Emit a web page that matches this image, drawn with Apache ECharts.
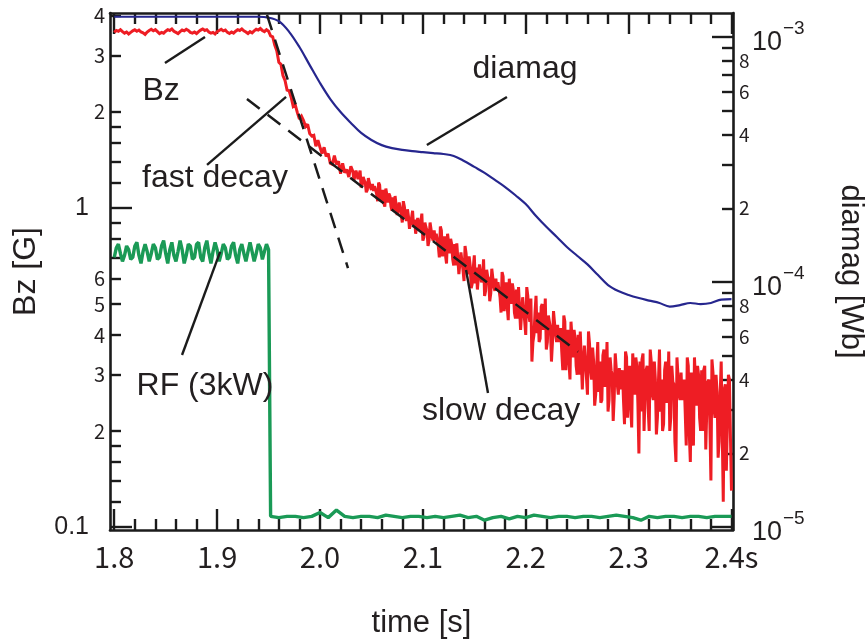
<!DOCTYPE html>
<html>
<head>
<meta charset="utf-8">
<script src="https://cdn.jsdelivr.net/npm/echarts@6/dist/echarts.min.js"></script>
<style>
  html, body { margin: 0; padding: 0; background: #ffffff; }
  #chart { width: 866px; height: 641px; }
</style>
</head>
<body>
<div id="chart"></div>
<script>
// ---- Bz probe signal [G], 2 ms sampling ----
const bzFlatStart = 1.800;
const bzStep = 0.002;
const bzFlat = [
  3.55,3.60,3.58,3.62,3.57,3.53,3.56,3.51,3.55,3.59,
  3.62,3.58,3.61,3.56,3.54,3.50,3.56,3.60,3.63,3.59,
  3.62,3.57,3.52,3.55,3.53,3.58,3.62,3.60,3.64,3.58,
  3.55,3.52,3.57,3.61,3.59,3.63,3.60,3.55,3.53,3.56,
  3.52,3.57,3.61,3.64,3.60,3.62,3.56,3.53,3.55,3.51,
  3.57,3.60,3.63,3.59,3.61,3.55,3.52,3.56,3.53,3.58,
  3.62,3.60,3.64,3.59,3.56,3.52,3.57,3.54,3.59,3.63,
  3.61,3.65,3.60,3.57,3.62,3.58
];
const bzDecayStart = 1.952;
const bzDecay = [
  3.46,3.44,3.24,3.11,2.86,2.82,2.60,2.51,2.34,2.33,
  2.22,2.08,2.10,1.99,1.90,1.94,1.88,1.80,1.83,1.71,
  1.68,1.69,1.56,1.63,1.55,1.48,1.55,1.45,1.48,1.38,
  1.37,1.46,1.37,1.40,1.28,1.38,1.29,1.32,1.25,1.35,
  1.30,1.22,1.32,1.23,1.16,1.25,1.20,1.14,1.23,1.14,
  1.13,1.17,1.05,1.18,1.10,1.04,1.15,1.04,1.09,0.98,
  0.98,1.09,0.99,1.03,0.90,1.01,0.91,0.94,0.86,0.98,
  0.92,0.83,0.94,0.86,0.79,0.90,0.85,0.79,0.89,0.79,
  0.79,0.84,0.70,0.85,0.77,0.71,0.83,0.72,0.77,0.66,
  0.66,0.78,0.67,0.73,0.59,0.72,0.62,0.66,0.58,0.71,
  0.65,0.56,0.67,0.60,0.53,0.64,0.60,0.54,0.64,0.55,
  0.55,0.59,0.47,0.61,0.54,0.49,0.60,0.50,0.55,0.45,
  0.45,0.57,0.47,0.52,0.40,0.53,0.44,0.33,0.40,0.53,
  0.47,0.39,0.50,0.43,0.36,0.46,0.42,0.38,0.47,0.38,
  0.38,0.42,0.31,0.44,0.375,0.33,0.44,0.34,0.39,0.30,
  0.30,0.41,0.33,0.37,0.26,0.375,0.29,0.33,0.26,0.38,
  0.33,0.25,0.36,0.29,0.23,0.34,0.30,0.255,0.35,0.26,
  0.27,0.31,0.21,0.34,0.28,0.24,0.35,0.26,0.32,0.17,
  0.23,0.35,0.26,0.32,0.20,0.33,0.25,0.29,0.22,0.36,
  0.29,0.21,0.33,0.26,0.20,0.32,0.28,0.16,0.34,0.25,
  0.25,0.29,0.18,0.32,0.16,0.21,0.34,0.24,0.30,0.20,
  0.20,0.32,0.235,0.29,0.14,0.305,0.22,0.265,0.185,0.33,
  0.12,0.28,0.15,0.29,0.13
];
// odd-millisecond samples of the same probe during the noisy tail
const bzTailStart = 2.033;
const bzTail = [
  1.22,1.31,1.23,1.31,1.18,1.22,1.12,1.24,1.16,1.19,
  1.17,1.11,1.20,1.05,1.14,1.01,1.10,1.11,1.01,1.08,
  1.09,0.95,1.04,0.95,1.05,0.94,0.99,0.86,0.93,0.87,
  0.83,0.93,0.85,0.96,0.81,0.87,0.76,0.90,0.81,0.85,
  0.83,0.76,0.875,0.705,0.815,0.67,0.78,0.80,0.69,0.77,
  0.775,0.62,0.725,0.64,0.76,0.65,0.705,0.56,0.65,0.58,
  0.555,0.665,0.585,0.69,0.55,0.61,0.51,0.645,0.565,0.60,
  0.585,0.525,0.63,0.475,0.585,0.445,0.55,0.58,0.47,0.555,
  0.565,0.415,0.525,0.44,0.565,0.46,0.52,0.38,0.47,0.405,
  0.38,0.49,0.415,0.52,0.38,0.44,0.33,0.475,0.40,0.43,
  0.41,0.355,0.46,0.31,0.415,0.29,0.39,0.415,0.32,0.40,
  0.41,0.27,0.37,0.295,0.41,0.31,0.365,0.24,0.32,0.265,
  0.245,0.345,0.275,0.38,0.25,0.31,0.215,0.35,0.28,0.315,
  0.30,0.25,0.355,0.22,0.32,0.205,0.305,0.34,0.245,0.33,
  0.335,0.20,0.31,0.235,0.36,0.26,0.33,0.195,0.285,0.23,
  0.20,0.31,0.245,0.355,0.22,0.285,0.185,0.34,0.26,0.305,
  0.28,0.23,0.34,0.195,0.305,0.18,0.285,0.32,0.22,0.31,
  0.31,0.175,0.285,0.21,0.335,0.235,0.30,0.165,0.26,0.20,
  0.27,0.15,0.30,0.19
];

// ---- RF power monitor (plotted on the Bz scale) ----
const rfOnStart = 1.800;
const rfOnStep = 0.002;
const rfOn = [
  0.70,0.75,0.77,0.72,0.68,0.71,0.76,0.74,0.69,0.70,
  0.76,0.78,0.71,0.67,0.73,0.77,0.73,0.68,0.72,0.77,
  0.75,0.69,0.70,0.76,0.79,0.72,0.67,0.74,0.78,0.71,
  0.68,0.73,0.79,0.74,0.67,0.71,0.77,0.76,0.69,0.70,
  0.77,0.78,0.70,0.68,0.75,0.79,0.72,0.67,0.73,0.78,
  0.74,0.68,0.72,0.77,0.75,0.69,0.70,0.76,0.78,0.71,
  0.67,0.74,0.77,0.72,0.68,0.73,0.78,0.73,0.68,0.72,
  0.77,0.75,0.69,0.73,0.77,0.74
];
const rfOffStart = 1.952;
const rfOffStep = 0.008;
const rfOff = [
  0.108,0.107,0.108,0.108,0.107,0.108,0.111,0.107,0.113,0.108,
  0.107,0.108,0.108,0.107,0.109,0.108,0.107,0.108,0.108,0.107,
  0.108,0.107,0.108,0.109,0.107,0.108,0.105,0.107,0.108,0.106,
  0.108,0.107,0.109,0.108,0.107,0.108,0.108,0.107,0.108,0.108,
  0.107,0.108,0.109,0.108,0.107,0.105,0.108,0.107,0.108,0.108,
  0.107,0.108,0.108,0.107,0.108,0.108,0.108
];

// ---- diamagnetic loop flux [Wb], 10 ms sampling ----
const diaStart = 1.80;
const diaStep = 0.01;
const diamag = [
  1.21e-3,1.21e-3,1.21e-3,1.21e-3,1.21e-3,1.21e-3,1.21e-3,1.21e-3,1.21e-3,1.21e-3,
  1.21e-3,1.21e-3,1.21e-3,1.21e-3,1.21e-3,1.20e-3,1.16e-3,1.05e-3,9.10e-4,7.68e-4,
  6.49e-4,5.58e-4,4.94e-4,4.46e-4,4.06e-4,3.80e-4,3.62e-4,3.52e-4,3.46e-4,3.42e-4,
  3.39e-4,3.36e-4,3.33e-4,3.27e-4,3.12e-4,2.95e-4,2.79e-4,2.61e-4,2.44e-4,2.26e-4,
  2.08e-4,1.86e-4,1.68e-4,1.53e-4,1.39e-4,1.28e-4,1.18e-4,1.07e-4,9.72e-5,9.19e-5,
  8.85e-5,8.60e-5,8.40e-5,8.21e-5,7.94e-5,8.05e-5,8.21e-5,8.13e-5,8.21e-5,8.48e-5,
  8.52e-5
];

// ---- exponential fits: [time, Bz] end points ----
const fastFit = [[1.9485, 4.03], [2.0272, 0.648]];
const slowFit = [[1.929, 2.196], [2.2508, 0.354]];

// ---- annotations: text anchors and leader lines, [time, Bz] ----
const noteText = ['Bz', 'fast decay', 'diamag', 'RF (3kW)', 'slow decay'];
const noteAt = [[1.8455, 2.33], [1.8979, 1.24], [2.1993, 2.72], [1.8882, 0.277], [2.1761, 0.231]];
const leaderFrom = [[1.8493, 2.848], [1.8902, 1.364], [2.1039, 1.576], [1.8659, 0.346], [2.1633, 0.263]];
const leaderTo = [[1.8882, 3.436], [1.9670, 2.228], [2.1817, 2.228], [1.9029, 0.728], [2.1420, 0.639]];

// ---- axis ticks and labels ----
const timeTicks = [1.8, 1.9, 2.0, 2.1, 2.2, 2.3, 2.4];
const timeLabels = ['1.8', '1.9', '2.0', '2.1', '2.2', '2.3', '2.4s'];
const bzDecadeTicks = [0.1, 1];
const bzDecadeLabels = ['0.1', '1'];
const bzMinorTicks = [0.12, 0.14, 0.16, 0.18, 0.2, 0.3, 0.4, 0.5, 0.6, 0.7, 0.8, 0.9, 1.2, 1.4, 1.6, 1.8, 2, 3, 4];
const bzDigitTicks = [0.2, 0.3, 0.4, 0.5, 0.6, 2, 3, 4];
const bzDigitLabels = ['2', '3', '4', '5', '6', '2', '3', '4'];
const diaDecadeTicks = [1e-5, 1e-4, 1e-3];
const diaDecadeBase = ['10', '10', '10'];
const diaDecadeExp = ['\u22125', '\u22124', '\u22123'];
const diaMinorTicks = [2e-5, 3e-5, 4e-5, 5e-5, 6e-5, 7e-5, 8e-5, 9e-5, 2e-4, 3e-4, 4e-4, 5e-4, 6e-4, 7e-4, 8e-4, 9e-4];
const diaDigitTicks = [2e-5, 4e-5, 6e-5, 8e-5, 2e-4, 4e-4, 6e-4, 8e-4];
const diaDigitLabels = ['2', '4', '6', '8', '2', '4', '6', '8'];

// ---- helpers ----
const lg = Math.log10;
const sampled = (t0, dt, vals) => vals.map((v, i) => [+(t0 + i * dt).toFixed(4), lg(v)]);
const pairs = (pts) => pts.map(p => [p[0], lg(p[1])]);
const lookup = (ticks, labels) => (val) => {
  const i = ticks.findIndex(t => Math.abs(t - val) < 1e-6);
  return i < 0 ? '' : labels[i];
};

const INK = '#1b1b1b';
const TEXT = '#231f20';
const RED = '#ee1d24';
const GREEN = '#1a9a56';
const BLUE = '#26268e';
const SANS = 'Liberation Sans, Arial, sans-serif';
const DIGITS = '"Noto Sans CJK JP", "Liberation Sans", sans-serif';

const timeRange = { min: 1.79587, max: 2.40147 };
const bzRange = { min: -1.0094, max: 0.611 };
const diaRange = { min: -5.0122, max: -2.902 };

const timeMinor = [];
for (let k = 0; k < timeTicks.length - 1; k++) {
  for (let j = 1; j < 5; j++) timeMinor.push(+(timeTicks[k] + j * 0.02).toFixed(3));
}

const tickStyle = { color: INK, width: 2.4 };
const lineStyleAxis = { color: INK, width: 2.6 };

function axis(opts) {
  return Object.assign({
    type: 'value',
    splitLine: { show: false },
    axisLine: { show: false, onZero: false },
    axisTick: { show: false },
    axisLabel: { show: false }
  }, opts);
}

const xAxes = [
  axis(Object.assign({ position: 'bottom' }, timeRange, {
    axisLine: { show: true, onZero: false, lineStyle: lineStyleAxis },
    axisTick: { show: true, inside: true, length: 21, lineStyle: tickStyle, customValues: timeTicks },
    axisLabel: {
      show: true, customValues: timeTicks, formatter: lookup(timeTicks, timeLabels),
      margin: 12, color: TEXT, fontFamily: DIGITS, fontSize: 29
    },
    name: 'time [s]', nameLocation: 'middle', nameGap: 78,
    nameTextStyle: { color: TEXT, fontFamily: SANS, fontSize: 31 }
  })),
  axis(Object.assign({ position: 'bottom' }, timeRange, {
    axisTick: { show: true, inside: true, length: 11, lineStyle: tickStyle, customValues: timeMinor }
  })),
  axis(Object.assign({ position: 'top' }, timeRange, {
    axisLine: { show: true, onZero: false, lineStyle: lineStyleAxis },
    axisTick: { show: true, inside: true, length: 21, lineStyle: tickStyle, customValues: timeTicks }
  })),
  axis(Object.assign({ position: 'top' }, timeRange, {
    axisTick: { show: true, inside: true, length: 11, lineStyle: tickStyle, customValues: timeMinor }
  }))
];

const yAxes = [
  axis(Object.assign({ position: 'left' }, bzRange, {
    axisLine: { show: true, onZero: false, lineStyle: lineStyleAxis },
    axisTick: { show: true, inside: true, length: 22, lineStyle: tickStyle, customValues: bzDecadeTicks.map(lg) },
    axisLabel: {
      show: true, customValues: bzDecadeTicks.map(lg), formatter: lookup(bzDecadeTicks.map(lg), bzDecadeLabels),
      margin: 21, color: TEXT, fontFamily: SANS, fontSize: 25
    },
    name: 'Bz [G]', nameLocation: 'middle', nameGap: 68, nameRotate: 90,
    nameTextStyle: { color: TEXT, fontFamily: SANS, fontSize: 32 }
  })),
  axis(Object.assign({ position: 'left' }, bzRange, {
    axisTick: { show: true, inside: true, length: 11, lineStyle: tickStyle, customValues: bzMinorTicks.map(lg) },
    axisLabel: {
      show: true, customValues: bzDigitTicks.map(lg), formatter: lookup(bzDigitTicks.map(lg), bzDigitLabels),
      margin: 5, color: TEXT, fontFamily: DIGITS, fontSize: 20
    }
  })),
  axis(Object.assign({ position: 'right' }, diaRange, {
    axisLine: { show: true, onZero: false, lineStyle: lineStyleAxis },
    axisTick: { show: true, inside: true, length: 21, lineStyle: tickStyle, customValues: diaDecadeTicks.map(lg) },
    axisLabel: {
      // blank first line pushes the mantissa below the tick
      show: true, customValues: diaDecadeTicks.map(lg),
      formatter: (val) => '\n' + lookup(diaDecadeTicks.map(lg), diaDecadeBase)(val),
      margin: 19, color: TEXT, fontFamily: SANS, fontSize: 27, lineHeight: 12
    },
    name: 'diamag [Wb]', nameLocation: 'middle', nameGap: 102, nameRotate: -90,
    nameTextStyle: { color: TEXT, fontFamily: SANS, fontSize: 31 }
  })),
  axis(Object.assign({ position: 'right' }, diaRange, {
    axisTick: { show: true, inside: true, length: 11, lineStyle: tickStyle, customValues: diaMinorTicks.map(lg) },
    axisLabel: {
      show: true, customValues: diaDigitTicks.map(lg), formatter: lookup(diaDigitTicks.map(lg), diaDigitLabels),
      margin: 6, color: TEXT, fontFamily: DIGITS, fontSize: 19
    }
  })),
  axis(Object.assign({ position: 'right' }, diaRange, {
    axisLabel: {
      // trailing blank line lifts the exponent above the tick
      show: true, customValues: diaDecadeTicks.map(lg),
      formatter: (val) => lookup(diaDecadeTicks.map(lg), diaDecadeExp)(val) + '\n',
      margin: 50, color: TEXT, fontFamily: SANS, fontSize: 19, lineHeight: 16
    }
  }))
];

const leaderLines = leaderFrom.map((p, i) => [
  { coord: [p[0], lg(p[1])] },
  { coord: [leaderTo[i][0], lg(leaderTo[i][1])] }
]);
const notePoints = noteText.map((txt, i) => ({
  coord: [noteAt[i][0], lg(noteAt[i][1])],
  label: { formatter: txt }
}));

// all Bz samples in time order
const bzData = sampled(bzFlatStart, bzStep, bzFlat)
  .concat(sampled(bzDecayStart, bzStep, bzDecay))
  .concat(sampled(bzTailStart, bzStep, bzTail))
  .sort((a, b) => a[0] - b[0]);

const chart = echarts.init(document.getElementById('chart'), null, { renderer: 'canvas' });
chart.setOption({
  animation: false,
  backgroundColor: '#ffffff',
  grid: { left: 110, right: 133, top: 13, bottom: 111, containLabel: false, outerBoundsMode: 'none' },
  xAxis: xAxes,
  yAxis: yAxes,
  series: [
    {
      name: 'RF', type: 'line', xAxisIndex: 0, yAxisIndex: 0, showSymbol: false,
      data: sampled(rfOnStart, rfOnStep, rfOn).concat(sampled(rfOffStart, rfOffStep, rfOff)),
      lineStyle: { color: GREEN, width: 3.4 }, z: 2
    },
    {
      name: 'diamag', type: 'line', xAxisIndex: 0, yAxisIndex: 2, showSymbol: false, smooth: 0.35,
      data: sampled(diaStart, diaStep, diamag),
      lineStyle: { color: BLUE, width: 2.2 }, z: 3
    },
    {
      name: 'Bz', type: 'line', xAxisIndex: 0, yAxisIndex: 0, showSymbol: false,
      data: bzData,
      lineStyle: { color: RED, width: 3, join: 'miter', miterLimit: 2 }, z: 4
    },
    {
      name: 'fast fit', type: 'line', xAxisIndex: 0, yAxisIndex: 0, showSymbol: false,
      data: pairs(fastFit),
      lineStyle: { color: INK, width: 2.5, type: [16, 10] }, z: 5
    },
    {
      name: 'slow fit', type: 'line', xAxisIndex: 0, yAxisIndex: 0, showSymbol: false,
      data: pairs(slowFit),
      lineStyle: { color: INK, width: 2.5, type: [16, 10] }, z: 5,
      markLine: {
        silent: true, symbol: 'none', animation: false,
        label: { show: false },
        lineStyle: { color: INK, width: 2.4, type: 'solid' },
        data: leaderLines
      },
      markPoint: {
        silent: true, symbol: 'circle', symbolSize: 0, animation: false,
        label: {
          show: true, position: 'inside', color: TEXT,
          fontFamily: SANS, fontSize: 32
        },
        data: notePoints
      }
    }
  ]
});
</script>
</body>
</html>
